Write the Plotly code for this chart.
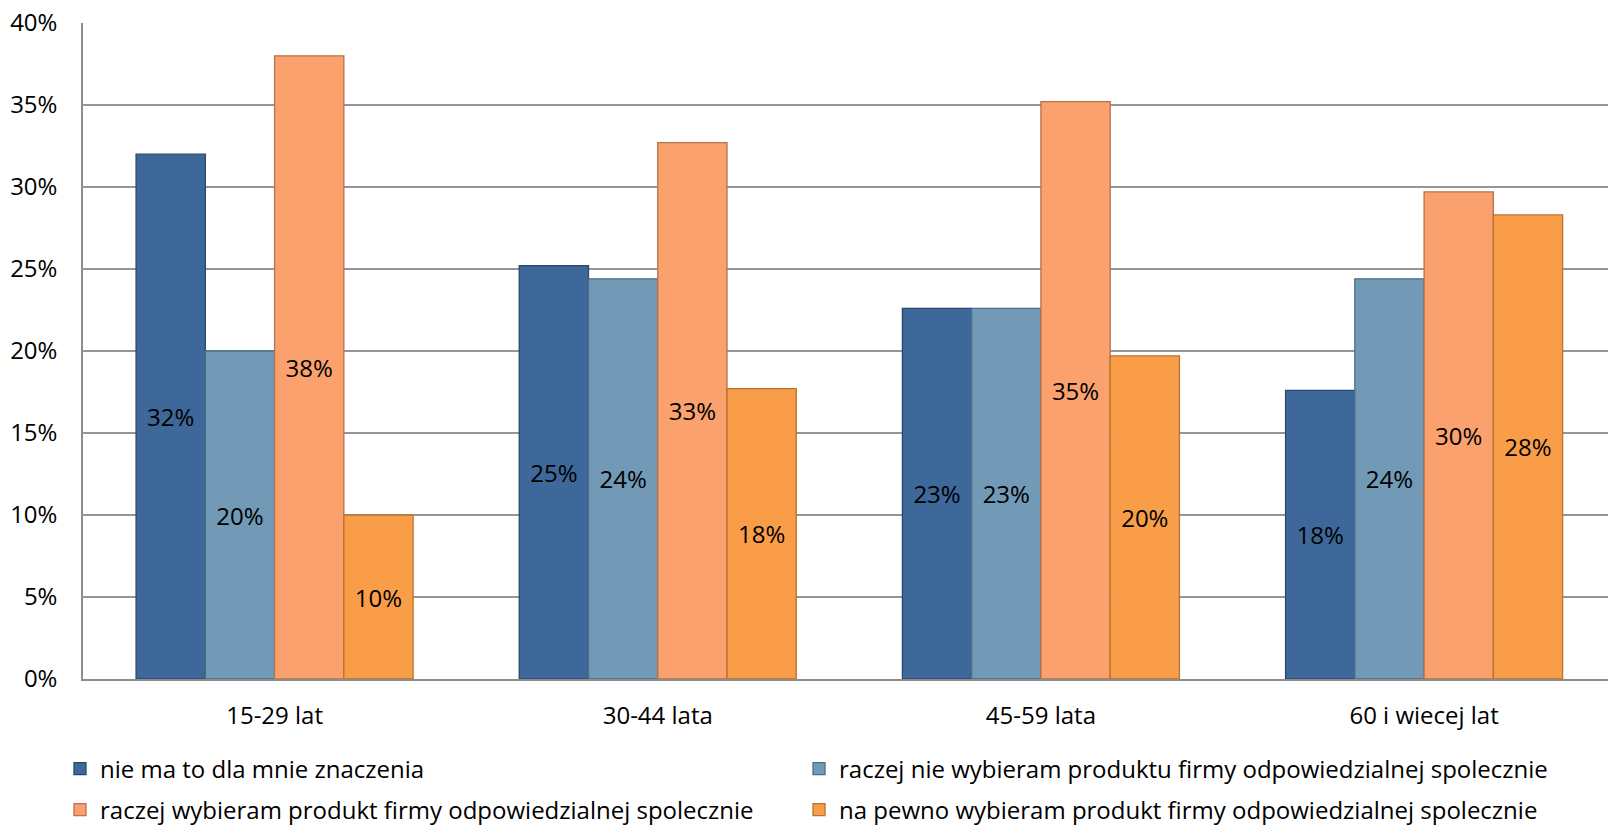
import plotly.graph_objects as go

# Age groups on the x axis
categories = ["15-29 lat", "30-44 lata", "45-59 lata", "60 i wiecej lat"]

# Series names (legend entries)
series_names = [
    "nie ma to dla mnie znaczenia",
    "raczej nie wybieram produktu firmy odpowiedzialnej spolecznie",
    "raczej wybieram produkt firmy odpowiedzialnej spolecznie",
    "na pewno wybieram produkt firmy odpowiedzialnej spolecznie",
]

# Share of respondents per age group (fractions)
nie_ma_znaczenia = [0.320, 0.252, 0.226, 0.176]
raczej_nie_wybieram = [0.200, 0.244, 0.226, 0.244]
raczej_wybieram = [0.380, 0.327, 0.352, 0.297]
na_pewno_wybieram = [0.100, 0.177, 0.197, 0.283]

y_ticks = [0, 0.05, 0.10, 0.15, 0.20, 0.25, 0.30, 0.35, 0.40]

series_values = [nie_ma_znaczenia, raczej_nie_wybieram, raczej_wybieram, na_pewno_wybieram]
fill_colors = ["#3D6899", "#7299B6", "#FBA16E", "#F99D48"]
edge_colors = ["#294870", "#4A6F8A", "#B8714A", "#B8732F"]

FONT = "Open Sans"
W, H = 1608, 828

# legend entry positions (container pixels: left of entry, vertical centre)
legend_pos = [(60, 769), (799, 769), (60, 810), (799, 810)]

fig = go.Figure()
for i, (name, vals) in enumerate(zip(series_names, series_values)):
    fig.add_trace(go.Bar(
        x=categories,
        y=vals,
        name=name,
        marker=dict(color=fill_colors[i], line=dict(color=edge_colors[i], width=1.3)),
        texttemplate="%{y:.0%}",
        textposition="inside",
        insidetextanchor="middle",
        textangle=0,
        insidetextfont=dict(color="black", size=24, family=FONT),
        legend="legend" if i == 0 else f"legend{i + 1}",
        hoverinfo="skip",
    ))

legends = {}
for i, (lx, ly) in enumerate(legend_pos):
    key = "legend" if i == 0 else f"legend{i + 1}"
    legends[key] = dict(
        xref="container", yref="container",
        x=lx / W, y=1 - ly / H,
        xanchor="left", yanchor="middle",
        font=dict(family=FONT, size=24, color="black"),
        bgcolor="rgba(0,0,0,0)",
        borderwidth=0,
    )

fig.update_layout(
    width=W,
    height=H,
    margin=dict(l=83, r=0, t=23, b=149, autoexpand=False),
    paper_bgcolor="white",
    plot_bgcolor="white",
    barmode="group",
    bargap=0.277,
    bargroupgap=0,
    font=dict(family=FONT, size=24, color="black"),
    showlegend=True,
    **legends,
)

fig.update_xaxes(
    range=[-0.5, 3.48],
    showline=True,
    linecolor="#8C8C8C",
    linewidth=2,
    ticks="",
    tickangle=0,
    ticklabelstandoff=14,
    tickfont=dict(family=FONT, size=24, color="black"),
    showgrid=False,
)

fig.update_yaxes(
    range=[0, 0.4],
    tickvals=y_ticks,
    tickformat=".0%",
    showgrid=True,
    gridcolor="#959595",
    gridwidth=1.8,
    showline=True,
    linecolor="#8C8C8C",
    linewidth=1.5,
    zeroline=False,
    ticks="",
    ticklabelstandoff=19,
    tickfont=dict(family=FONT, size=24, color="black"),
)

fig.write_html("out.html")
